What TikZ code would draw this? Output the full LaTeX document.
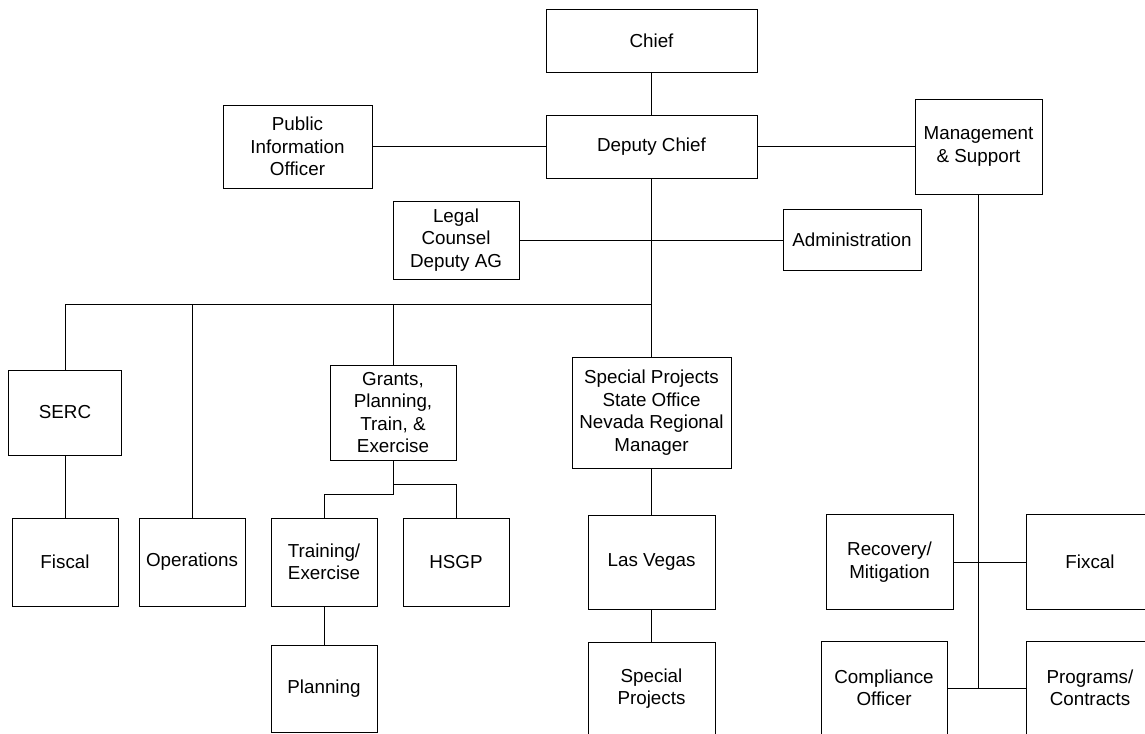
\documentclass[tikz,border=0pt]{standalone}
\usepackage{fontspec}
\setmainfont{Liberation Sans}
\begin{document}
\begin{tikzpicture} [
        x=0.02cm, y=-0.02cm,
        box/.style 2 args={draw, rectangle, line width=0.5pt, inner sep=0pt,
            minimum width=#1*0.02cm, minimum height=#2*0.02cm},
        align=center,
        font=\fontsize{10.7}{12.8}\selectfont,
        every path/.style={line width=0.5pt} ]
    \useasboundingbox (0,0) rectangle (1145,733);
    \node[box={211}{63}] (chief) at (651.5,40.5) {Chief};
    \node[box={211}{63}] (deputy) at (651.5,146.5) {Deputy Chief};
    \node[box={149}{83}] (pio) at (297.5,146.5) {Public\\Information\\Officer};
    \node[box={127}{95}] (mgmt) at (978.5,146.5) {Management\\\& Support};
    \node[box={126}{78}] (legal) at (456,240) {Legal\\Counsel\\Deputy AG};
    \node[box={138}{61}] (admin) at (852,240) {Administration};
    \node[box={113}{85}] (serc) at (65,412.5) {SERC};
    \node[box={126}{95}] (grants) at (393,412.5) {Grants,\\Planning,\\Train, \&\\Exercise};
    \node[box={159}{111}] (spso) at (651.5,412.5) {Special Projects\\State Office\\Nevada Regional\\Manager};
    \node[box={106}{88}] (fiscal) at (65,562) {Fiscal};
    \node[box={106}{88}] (ops) at (192,562) {Operations};
    \node[box={106}{88}] (training) at (324,562) {Training/\\Exercise};
    \node[box={106}{88}] (hsgp) at (456,562) {HSGP};
    \node[box={127}{94}] (lasvegas) at (651.5,562) {Las Vegas};
    \node[box={106}{87}] (planning) at (324,688.5) {Planning};
    \node[box={127}{93}] (specproj) at (651.5,688.5) {Special\\Projects};
    \node[box={127}{95}] (recovery) at (889.5,562) {Recovery/\\Mitigation};
    \node[box={128}{95}] (fixcal) at (1090,562) {Fixcal};
    \node[box={126}{94}] (compliance) at (884,688) {Compliance\\Officer};
    \node[box={128}{94}] (programs) at (1090,688) {Programs/\\Contracts};
    \coordinate (bus) at (651.5,304);
    \draw (chief) -- (deputy);
    \draw (pio) -- (deputy);
    \draw (deputy) -- (mgmt);
    \draw (legal) -- (admin);
    \draw (deputy) -- (spso);
    \draw (bus) -| (serc.north);
    \draw (bus) -| (ops.north);
    \draw (bus) -| (grants.north);
    \draw (serc) -- (fiscal);
    \draw (grants.south) -- ++(0,34) -| (training.north);
    \draw (grants.south) -- ++(0,24) -| (hsgp.north);
    \draw (training) -- (planning);
    \draw (spso) -- (lasvegas);
    \draw (lasvegas) -- (specproj);
    \draw (mgmt.south) -- (mgmt.south |- compliance.east);
    \draw (recovery) -- (fixcal);
    \draw (compliance) -- (programs);
\end{tikzpicture}
\end{document}
